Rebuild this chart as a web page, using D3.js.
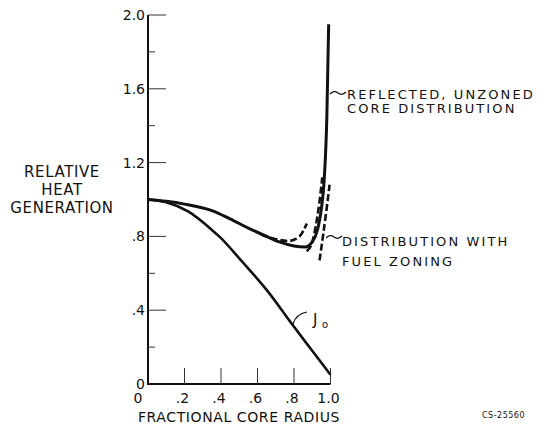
<!DOCTYPE html>
<html>
<head>
<meta charset="utf-8">
<script src="https://cdn.jsdelivr.net/npm/d3@7"></script>
<style>
  body { margin: 0; background: #fff; }
  svg text { font-family: "DejaVu Sans", sans-serif; fill: #111; }
</style>
</head>
<body>
<div id="chart"></div>
<script>
// values: [radius, relative heat]
var j0Curve = [[0, 1.0], [0.1, 0.985], [0.22, 0.935], [0.35, 0.835], [0.39, 0.80], [0.51, 0.67],
  [0.65, 0.51], [0.8, 0.31], [0.9, 0.18], [1.0, 0.05]]
var unzoned = [[0, 1.0], [0.1, 0.99], [0.2, 0.975], [0.35, 0.94], [0.45, 0.895], [0.55, 0.845],
  [0.65, 0.80], [0.72, 0.77], [0.8, 0.748], [0.86, 0.742], [0.9, 0.77], [0.93, 0.84],
  [0.95, 0.95], [0.965, 1.1], [0.98, 1.45], [0.99, 1.95]]
var zonedSegments = [
  [[0.62, 0.81], [0.7, 0.785], [0.77, 0.775], [0.83, 0.80], [0.87, 0.87]],
  [[0.87, 0.72], [0.9, 0.77], [0.92, 0.86], [0.94, 0.99], [0.955, 1.12]],
  [[0.94, 0.67], [0.96, 0.81], [0.98, 0.96], [0.995, 1.08]]
]
var yLabels = [[0, "0"], [0.4, ".4"], [0.8, ".8"], [1.2, "1.2"], [1.6, "1.6"], [2.0, "2.0"]]
var yMinor = [0.2, 0.6, 1.0, 1.4, 1.8]
var xLabels = [[0, "0"], [0.2, ".2"], [0.4, ".4"], [0.6, ".6"], [0.8, ".8"], [1.0, "1.0"]]
var yTitle = ["RELATIVE", "HEAT", "GENERATION"]

var svg = d3.select("#chart").append("svg").attr("width", 537).attr("height", 427)

var x = d3.scaleLinear().domain([0, 1]).range([148, 330.5])
var y = d3.scaleLinear().domain([0, 2]).range([384, 15])

// axes
svg.append("line").attr("x1", x(0)).attr("x2", x(0)).attr("y1", y(0)).attr("y2", y(2))
  .attr("stroke", "#111").attr("stroke-width", 2)
svg.append("line").attr("x1", x(0) - 1).attr("x2", x(1)).attr("y1", y(0)).attr("y2", y(0))
  .attr("stroke", "#111").attr("stroke-width", 2)

svg.append("g").selectAll("line").data(yLabels.filter(d => d[0] > 0)).enter().append("line")
  .attr("x1", x(0)).attr("x2", x(0) + 18).attr("y1", d => y(d[0])).attr("y2", d => y(d[0]))
  .attr("stroke", "#333").attr("stroke-width", 1)
svg.append("g").selectAll("line").data(yMinor).enter().append("line")
  .attr("x1", x(0)).attr("x2", x(0) + 7).attr("y1", d => y(d)).attr("y2", d => y(d))
  .attr("stroke", "#333").attr("stroke-width", 1)
svg.append("g").selectAll("line").data(xLabels.filter(d => d[0] > 0)).enter().append("line")
  .attr("x1", d => x(d[0])).attr("x2", d => x(d[0])).attr("y1", y(0)).attr("y2", y(0) - 16)
  .attr("stroke", "#333").attr("stroke-width", 1)

svg.append("g").selectAll("text").data(yLabels).enter().append("text")
  .attr("x", x(0) - 3).attr("y", d => y(d[0]) + 5)
  .attr("text-anchor", "end").attr("font-size", 14)
  .text(d => d[1])
svg.append("g").selectAll("text").data(xLabels).enter().append("text")
  .attr("x", d => d[0] == 0 ? x(0) - 10 : x(d[0]) - 2).attr("y", 403)
  .attr("text-anchor", "middle").attr("font-size", 14)
  .text(d => d[1])

svg.append("text").attr("x", 239).attr("y", 422).attr("text-anchor", "middle")
  .attr("font-size", 14).attr("letter-spacing", 0.6).text("FRACTIONAL CORE RADIUS")
svg.append("g").selectAll("text").data(yTitle).enter().append("text")
  .attr("x", 62).attr("y", (d, i) => 177 + i * 18).attr("text-anchor", "middle")
  .attr("font-size", 15).attr("letter-spacing", 0.6).text(d => d)

// curves
var line = d3.line().x(d => x(d[0])).y(d => y(d[1])).curve(d3.curveMonotoneX)

svg.append("path").attr("d", line(j0Curve)).attr("fill", "none")
  .attr("stroke", "#111").attr("stroke-width", 2.6)
svg.append("path").attr("d", line(unzoned)).attr("fill", "none")
  .attr("stroke", "#111").attr("stroke-width", 3)
svg.append("g").selectAll("path").data(zonedSegments).enter().append("path")
  .attr("d", d => line(d)).attr("fill", "none")
  .attr("stroke", "#111").attr("stroke-width", 2.6).attr("stroke-dasharray", "7,3")

// leaders and annotations
var leader = d => "M" + d[0] + "," + d[1] + " q4,-4 8,-1 t8,-1"
svg.append("path").attr("d", leader([330, 94])).attr("fill", "none").attr("stroke", "#111").attr("stroke-width", 1.2)
svg.append("path").attr("d", leader([326, 238])).attr("fill", "none").attr("stroke", "#111").attr("stroke-width", 1.2)
svg.append("path").attr("d", "M293,324 q3,-10 14,-12").attr("fill", "none").attr("stroke", "#111").attr("stroke-width", 1.2)

var notes = [["REFLECTED, UNZONED", 347, 99], ["CORE DISTRIBUTION", 347, 113],
  ["DISTRIBUTION WITH", 342, 246], ["FUEL ZONING", 342, 266]]
svg.append("g").selectAll("text").data(notes).enter().append("text")
  .attr("x", d => d[1]).attr("y", d => d[2]).attr("font-size", 13).attr("letter-spacing", 2.1)
  .text(d => d[0])

svg.append("text").attr("x", 313).attr("y", 325).attr("font-size", 15).text("J")
svg.append("text").attr("x", 322).attr("y", 328).attr("font-size", 10).text("o")

svg.append("text").attr("x", 482).attr("y", 418).attr("font-size", 8).attr("letter-spacing", 0.5).text("CS-25560")
</script>
</body>
</html>
